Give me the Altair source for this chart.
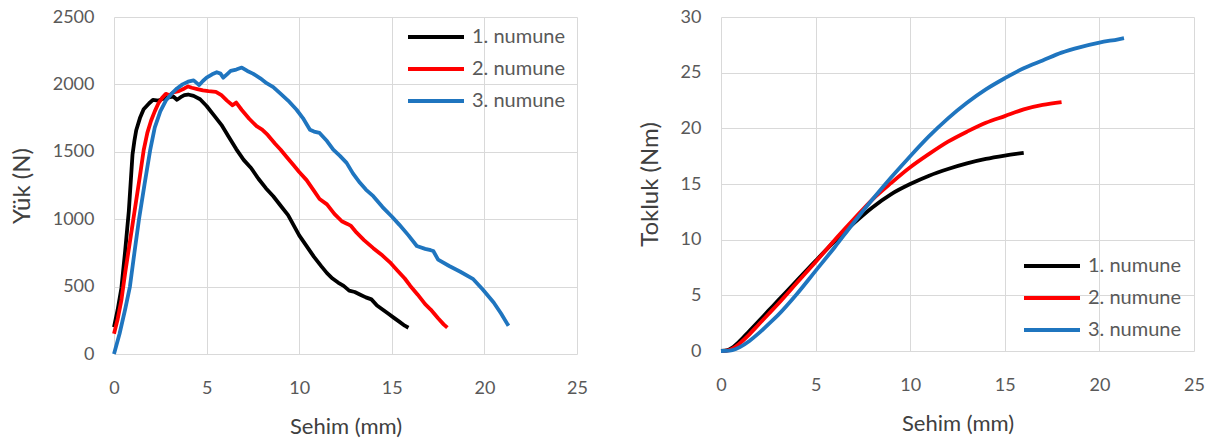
import altair as alt
import pandas as pd

series = ["1. numune", "2. numune", "3. numune"]
colors = ["#000000", "#ff0000", "#1f75bf"]

# Load–deflection readings, Sehim (mm) / Yük (N)
load_x_1 = [0, 0.2, 0.4, 0.6, 0.8, 1.0, 1.1, 1.2, 1.4, 1.6, 1.9, 2.1, 2.4, 2.7, 3.0, 3.2, 3.4, 3.6,
            3.8, 4.0, 4.3, 4.65, 5.0, 5.4, 5.8, 6.2, 6.6, 7.0, 7.4, 7.8, 8.2, 8.6, 9.0, 9.4, 9.8,
            10.0, 10.4, 10.8, 11.2, 11.5, 11.8, 12.1, 12.4, 12.7, 13.0, 13.3, 13.6, 13.9, 14.2,
            14.5, 14.8, 15.1, 15.4, 15.7, 15.9]
load_y_1 = [200, 330, 490, 760, 1060, 1480, 1580, 1660, 1750, 1815, 1860, 1885, 1880, 1895, 1905,
            1910, 1886, 1905, 1920, 1925, 1915, 1890, 1840, 1770, 1700, 1610, 1520, 1440, 1380,
            1300, 1230, 1170, 1100, 1030, 930, 880, 800, 720, 650, 600, 560, 530, 505, 470, 460,
            440, 420, 405, 360, 330, 300, 270, 240, 210, 195]

load_x_2 = [0, 0.2, 0.4, 0.6, 0.8, 1.0, 1.2, 1.4, 1.6, 1.8, 2.0, 2.2, 2.4, 2.6, 2.8, 3.0, 3.2, 3.5,
            3.8, 4.0, 4.2, 4.5, 4.8, 5.1, 5.5, 5.8, 6.1, 6.4, 6.6, 6.9, 7.3, 7.7, 8.0, 8.3, 8.7, 9.0,
            9.3, 9.7, 10.0, 10.4, 10.8, 11.1, 11.5, 11.9, 12.3, 12.6, 12.8, 13.1, 13.5, 14.0, 14.5,
            14.9, 15.3, 15.7, 16.0, 16.4, 16.8, 17.1, 17.5, 17.8, 18.0]
load_y_2 = [150, 260, 400, 600, 780, 960, 1140, 1320, 1510, 1640, 1730, 1800, 1860, 1900, 1930,
            1920, 1940, 1950, 1970, 1985, 1975, 1965, 1955, 1950, 1945, 1920, 1880, 1845, 1865,
            1810, 1745, 1690, 1665, 1625, 1560, 1515, 1465, 1400, 1350, 1290, 1210, 1150, 1110,
            1040, 985, 965, 950, 900, 845, 785, 730, 680, 620, 560, 505, 440, 370, 330, 265, 220, 195]

load_x_3 = [0, 0.3, 0.6, 0.86, 1.1, 1.35, 1.65, 1.95, 2.2, 2.5, 2.8, 3.1, 3.4, 3.7, 4.0, 4.3, 4.6,
            4.8, 5.0, 5.3, 5.55, 5.75, 5.9, 6.1, 6.3, 6.6, 6.9, 7.2, 7.5, 7.9, 8.24, 8.6, 8.96, 9.4,
            9.86, 10.2, 10.58, 10.8, 11.1, 11.5, 11.84, 12.2, 12.56, 12.9, 13.28, 13.6, 14.0, 14.5,
            15.0, 15.4, 15.9, 16.35, 16.8, 17.1, 17.24, 17.5, 18.1, 18.7, 19.4, 19.9, 20.5, 20.9, 21.3]
load_y_3 = [0, 150, 330, 500, 750, 1000, 1260, 1510, 1680, 1800, 1880, 1930, 1970, 2000, 2020, 2030,
            1995, 2025, 2050, 2075, 2090, 2080, 2050, 2075, 2100, 2110, 2125, 2100, 2080, 2045, 2009,
            1980, 1935, 1880, 1812, 1750, 1664, 1650, 1640, 1580, 1516, 1470, 1418, 1340, 1270, 1220,
            1171, 1090, 1020, 960, 880, 801, 780, 770, 764, 700, 653, 610, 555, 480, 382, 300, 209]

# Toughness readings, Sehim (mm) / Tokluk (Nm)
tough_x_1 = [0, 0.3, 0.6, 1, 1.5, 2, 2.5, 3, 4, 5, 6, 7, 8, 9, 10, 11, 12, 13, 14, 15, 16]
tough_y_1 = [0, 0.05, 0.3, 0.9, 1.8, 2.7, 3.6, 4.5, 6.3, 8.1, 9.85, 11.45, 12.9, 14.1, 15.0, 15.75,
             16.35, 16.85, 17.25, 17.55, 17.8]

tough_x_2 = [0, 0.3, 0.6, 1, 1.5, 2, 2.5, 3, 4, 5, 6, 7, 8, 9, 10, 11, 12, 13, 14, 15, 16, 17, 18]
tough_y_2 = [0, 0.03, 0.2, 0.7, 1.5, 2.4, 3.3, 4.2, 6.1, 8.0, 9.95, 11.8, 13.6, 15.1, 16.5, 17.7,
             18.8, 19.7, 20.5, 21.1, 21.7, 22.1, 22.35]

tough_x_3 = [0, 0.3, 0.6, 1, 1.5, 2, 2.5, 3, 4, 5, 6, 7, 8, 9, 10, 11, 12, 13, 14, 15, 16, 17, 18,
             19, 20, 21, 21.3]
tough_y_3 = [0, 0.01, 0.08, 0.35, 0.9, 1.6, 2.4, 3.2, 5.1, 7.2, 9.3, 11.5, 13.6, 15.6, 17.5, 19.3,
             20.9, 22.3, 23.5, 24.5, 25.4, 26.1, 26.8, 27.3, 27.7, 28.0, 28.1]


def long_table(xs, ys, value_name):
    rows = []
    for name, xv, yv in zip(series, xs, ys):
        for i, (a, b) in enumerate(zip(xv, yv)):
            rows.append({"numune": name, "idx": i, "sehim": a, value_name: b})
    return pd.DataFrame(rows)


load_df = long_table([load_x_1, load_x_2, load_x_3], [load_y_1, load_y_2, load_y_3], "yuk")
tough_df = long_table([tough_x_1, tough_x_2, tough_x_3], [tough_y_1, tough_y_2, tough_y_3], "tokluk")

FONT = "Lato"
TICK = "#595959"
TITLE = "#404040"
GRID = "#d9d9d9"

x_ticks = [0, 5, 10, 15, 20, 25]


def x_axis():
    return alt.Axis(values=x_ticks, title="Sehim (mm)", grid=True, gridColor=GRID, domain=False,
                    ticks=False, labelPadding=25, titlePadding=19, labelFontSize=18,
                    titleFontSize=22, labelColor=TICK, titleColor=TITLE, labelFont=FONT,
                    titleFont=FONT, titleFontWeight="normal", labelFlush=False, format="d")


def y_axis(title, values):
    return alt.Axis(values=values, title=title, grid=True, gridColor=GRID, domain=False,
                    ticks=False, labelPadding=20, titlePadding=18, labelFontSize=18,
                    titleFontSize=24, labelColor=TICK, titleColor=TITLE, labelFont=FONT,
                    titleFont=FONT, titleFontWeight="normal", format="d")


def legend(lx, ly):
    return alt.Legend(title=None, orient="none", legendX=lx, legendY=ly,
                      symbolType="M-1,0H27", symbolSize=16, symbolStrokeWidth=4,
                      labelOffset=52, labelFontSize=20, labelColor=TICK, labelFont=FONT,
                      rowPadding=12, padding=0)


color_scale = alt.Scale(domain=series, range=colors)

load_chart = alt.Chart(load_df).mark_line(strokeWidth=3.8, strokeJoin="round").encode(
    x=alt.X("sehim:Q", scale=alt.Scale(domain=[0, 25], nice=False), axis=x_axis()),
    y=alt.Y("yuk:Q", scale=alt.Scale(domain=[0, 2500], nice=False),
            axis=y_axis("Yük (N)", [0, 500, 1000, 1500, 2000, 2500])),
    color=alt.Color("numune:N", scale=color_scale, legend=legend(286, 10)),
    order="idx:Q",
).properties(width=463, height=337)

tough_chart = alt.Chart(tough_df).mark_line(strokeWidth=3.8, interpolate="monotone").encode(
    x=alt.X("sehim:Q", scale=alt.Scale(domain=[0, 25], nice=False), axis=x_axis()),
    y=alt.Y("tokluk:Q", scale=alt.Scale(domain=[0, 30], nice=False),
            axis=y_axis("Tokluk (Nm)", [0, 5, 10, 15, 20, 25, 30])),
    color=alt.Color("numune:N", scale=color_scale, legend=legend(295, 239)),
    order="idx:Q",
).properties(width=473, height=334)

chart = alt.hconcat(load_chart, tough_chart, spacing=50).resolve_scale(
    color="independent"
).resolve_legend(color="independent").properties(
    padding={"left": 10, "top": 8, "right": 5, "bottom": 2},
    background="white",
).configure_view(stroke=None)

chart.save("out.html", embed_options={"renderer": "svg", "actions": False})
